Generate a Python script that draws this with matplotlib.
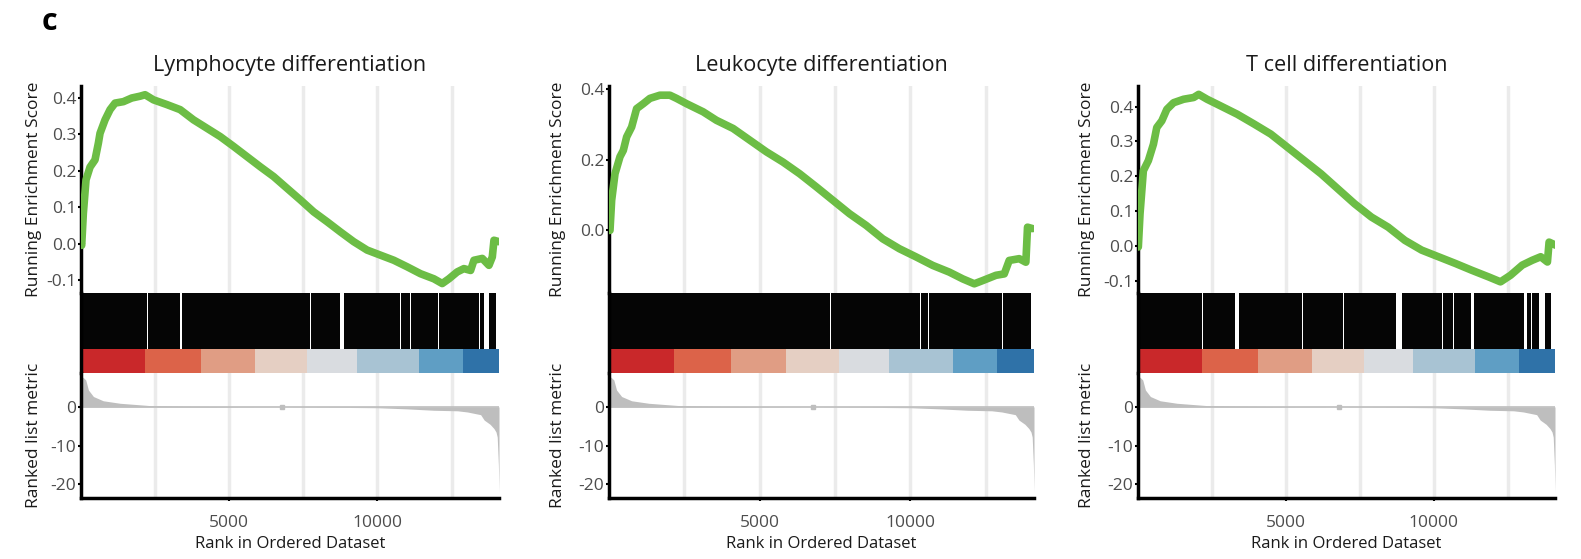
import numpy as np
import matplotlib
matplotlib.use('Agg')
import matplotlib.pyplot as plt

plt.rcParams['font.family'] = ['Open Sans', 'DejaVu Sans']

titles = ['Lymphocyte differentiation', 'Leukocyte differentiation', 'T cell differentiation']

# running enrichment score (rank, score)
lymph_rank = [0, 23, 79, 169, 304, 473, 586, 642, 811, 980, 1149, 1430, 1712, 1993, 2162, 2444,
              2894, 3345, 3795, 4246, 4696, 5147, 5597, 6047, 6498, 6948, 7399, 7849, 8300, 8750,
              9200, 9651, 10101, 10552, 11002, 11453, 11903, 12185, 12410, 12691, 12916, 13142,
              13255, 13536, 13761, 13874, 13930, 14099]
lymph_es = [0.0, -0.005, 0.083, 0.175, 0.21, 0.23, 0.276, 0.303, 0.34, 0.368, 0.386, 0.39, 0.4,
            0.405, 0.409, 0.395, 0.382, 0.368, 0.34, 0.317, 0.294, 0.267, 0.239, 0.211, 0.184,
            0.152, 0.12, 0.087, 0.06, 0.032, 0.005, -0.018, -0.032, -0.046, -0.064, -0.083,
            -0.097, -0.11, -0.097, -0.078, -0.069, -0.074, -0.046, -0.041, -0.06, -0.037, 0.009,
            0.005]

leuko_rank = [0, 33, 88, 199, 364, 475, 585, 751, 916, 1137, 1358, 1689, 2020, 2241, 2572, 3124,
              3565, 4117, 4669, 5221, 5773, 6325, 6877, 7428, 7980, 8532, 9084, 9636, 10188,
              10740, 11291, 11733, 12119, 12395, 12837, 13113, 13278, 13609, 13830, 13885, 14051]
leuko_es = [0.0, 0.0, 0.085, 0.16, 0.208, 0.226, 0.264, 0.292, 0.344, 0.358, 0.373, 0.382, 0.382,
            0.373, 0.358, 0.335, 0.311, 0.288, 0.255, 0.222, 0.193, 0.16, 0.123, 0.085, 0.047,
            0.014, -0.024, -0.052, -0.075, -0.099, -0.118, -0.137, -0.151, -0.142, -0.127,
            -0.123, -0.085, -0.08, -0.09, 0.009, 0.005]

tcell_rank = [0, 11, 68, 181, 351, 522, 635, 805, 975, 1202, 1542, 1882, 2052, 2336, 2789, 3356,
              3923, 4490, 5057, 5624, 6190, 6757, 7324, 7891, 8458, 9025, 9592, 10159, 10726,
              11293, 11860, 12257, 12597, 12993, 13333, 13617, 13844, 13900, 14127]
tcell_es = [0.0, -0.003, 0.092, 0.216, 0.245, 0.292, 0.34, 0.359, 0.392, 0.411, 0.421, 0.426,
            0.435, 0.421, 0.402, 0.378, 0.35, 0.321, 0.283, 0.245, 0.207, 0.164, 0.121, 0.083,
            0.054, 0.016, -0.012, -0.031, -0.05, -0.07, -0.089, -0.103, -0.084, -0.055, -0.041,
            -0.031, -0.046, 0.011, 0.002]

# white gaps in the black hit band (rank ranges) and where the hits end
lymph_gaps = [(2240, 2275), (3340, 3410), (3700, 3720), (5760, 5775), (7730, 7745), (8720, 8860),
              (10770, 10785), (11110, 11125), (12045, 12060), (13080, 13095), (13440, 13460),
              (13590, 13760)]
leuko_gaps = [(2210, 2235), (3415, 3428), (4772, 4785), (7344, 7356), (8525, 8538),
              (10325, 10338), (10590, 10602), (11340, 11353), (13050, 13063), (13690, 13705)]
tcell_gaps = [(2160, 2190), (3288, 3401), (3712, 3726), (3940, 3953), (5550, 5563), (6943, 6957),
              (8707, 8934), (9268, 9281), (10288, 10302), (10650, 10690), (10855, 10868),
              (11259, 11349), (13050, 13141), (13292, 13306), (13548, 13752)]
hits_end = [14010, 14000, 13960]

# ranked list metric (shared ordered dataset)
n_genes = 14100
metric_rank = [0, 80, 160, 250, 420, 750, 1320, 2330, 3500, 5000, 6780, 8500, 10000, 11000,
               11900, 12700, 13030, 13480, 13600, 13800, 13930, 14000, 14040, 14080, 14100]
metric_val = [8.0, 7.6, 7.0, 4.4, 2.7, 1.6, 0.95, 0.35, 0.2, 0.08, 0.0, -0.1, -0.2, -0.5, -0.86,
              -1.0, -1.3, -2.0, -3.4, -4.5, -5.6, -6.5, -7.8, -15.0, -22.0]

# colour band under the hits
band_edges = [0, 2150, 4050, 5880, 7640, 9300, 11400, 12880, 14100]
band_colors = ['#c9282a', '#dc6349', '#e09d84', '#e5cfc3', '#d9dce0', '#a8c3d3', '#5f9ec4',
               '#2f72a8']

es_ranks = [lymph_rank, leuko_rank, tcell_rank]
es_vals = [lymph_es, leuko_es, tcell_es]
gaps = [lymph_gaps, leuko_gaps, tcell_gaps]
es_ticks = [[-0.1, 0.0, 0.1, 0.2, 0.3, 0.4], [0.0, 0.2, 0.4], [-0.1, 0.0, 0.1, 0.2, 0.3, 0.4]]
es_lims = [(-0.136, 0.433), (-0.177, 0.408), (-0.135, 0.459)]
panel_x = [(81, 499), (609, 1034), (1138, 1555)]
ylab_x = [-0.094, -0.101, -0.103]

W, H = 1581, 559
fig = plt.figure(figsize=(W / 100, H / 100), dpi=100)


def box(x0, x1, y0, y1):
    return [x0 / W, 1 - y1 / H, (x1 - x0) / W, (y1 - y0) / H]


grid_x = [2500, 5000, 7500, 10000, 12500]
tick_gray = '#4d4d4d'
green = '#6cbd45'

for i in range(3):
    x0, x1 = panel_x[i]

    # running enrichment score
    ax = fig.add_axes(box(x0, x1, 86, 293))
    for g in grid_x:
        ax.axvline(g, color='#ebebeb', lw=2.5, zorder=0)
    ax.plot(es_ranks[i], es_vals[i], color=green, lw=5.5, solid_capstyle='round', zorder=3)
    ax.set_xlim(0, n_genes)
    ax.set_ylim(*es_lims[i])
    ax.set_yticks(es_ticks[i])
    ax.set_yticklabels([f'{t:.1f}' for t in es_ticks[i]])
    ax.set_xticks([])
    for s in ['top', 'right', 'bottom']:
        ax.spines[s].set_visible(False)
    ax.spines['left'].set_linewidth(2.5)
    ax.tick_params(axis='y', length=2.5, width=1.5, labelcolor=tick_gray, labelsize=12.5, pad=1)
    ax.set_ylabel('Running Enrichment Score', fontsize=12.5, color='#1a1a1a')
    ax.yaxis.set_label_coords(ylab_x[i], 0.5)
    ax.set_title(titles[i], fontsize=15.6, pad=11, color='#1a1a1a')

    # hit band + colour band
    hx = fig.add_axes(box(x0, x1, 293, 373))
    hx.set_xlim(0, n_genes)
    hx.set_ylim(0, 1)
    edges = [0]
    for a, b in gaps[i]:
        edges += [a, b]
    edges.append(hits_end[i])
    segs = [(edges[k], edges[k + 1] - edges[k]) for k in range(0, len(edges), 2)]
    hx.broken_barh(segs, (0.3, 0.7), facecolor='#050505', edgecolor='none')
    hx.broken_barh([(band_edges[k], band_edges[k + 1] - band_edges[k]) for k in range(8)],
                   (0, 0.3), facecolors=band_colors, edgecolor='none')
    hx.set_xticks([])
    hx.set_yticks([])
    for s in ['top', 'right', 'bottom']:
        hx.spines[s].set_visible(False)
    hx.spines['left'].set_linewidth(2.5)

    # ranked list metric
    mx = fig.add_axes(box(x0, x1, 373, 498))
    for g in grid_x:
        mx.axvline(g, color='#ebebeb', lw=2.5, zorder=0)
    mx.fill_between(metric_rank, 0, metric_val, color='#bebebe', lw=0, zorder=2)
    mx.plot([0, n_genes], [0, 0], color='#bebebe', lw=1.2, zorder=2)
    mx.plot([6780], [0], marker='s', ms=3, color='#bebebe', zorder=3)
    mx.set_xlim(0, n_genes)
    mx.set_ylim(-23.6, 8.8)
    mx.set_yticks([-20, -10, 0])
    mx.set_yticklabels(['-20', '-10', '0'])
    mx.set_xticks([5000, 10000])
    for s in ['top', 'right']:
        mx.spines[s].set_visible(False)
    mx.spines['left'].set_linewidth(2.5)
    mx.spines['bottom'].set_linewidth(2.5)
    mx.tick_params(length=2.5, width=1.5, labelcolor=tick_gray, labelsize=12.5, pad=1)
    mx.tick_params(axis='x', pad=10)
    mx.set_ylabel('Ranked list metric', fontsize=12.5, color='#1a1a1a')
    mx.yaxis.set_label_coords(ylab_x[i], 0.5)
    mx.set_xlabel('Rank in Ordered Dataset', fontsize=12, color='#1a1a1a', labelpad=3)

fig.text(42 / W, 1 - 22 / H, 'c', fontsize=22, fontweight='bold', va='center', ha='left')

fig.savefig('out.png', dpi=100)
